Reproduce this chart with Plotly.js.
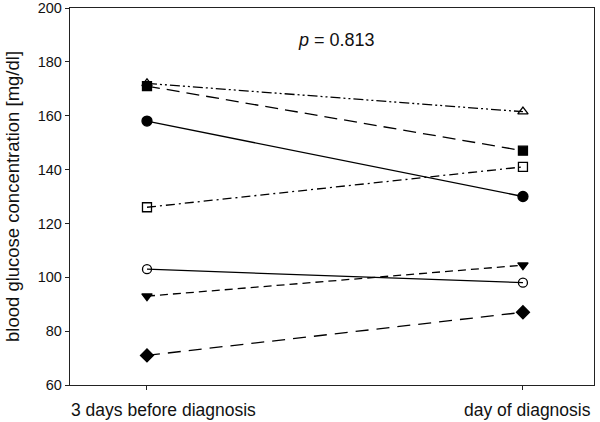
<!DOCTYPE html>
<html>
<head>
<meta charset="utf-8">
<script src="https://cdn.plot.ly/plotly-3.0.1.min.js"></script>
<style>html,body{margin:0;padding:0;background:#fff;}#chart{width:600px;height:422px;}</style>
</head>
<body>
<div id="chart"></div>
<script>
var categories = ["3 days before diagnosis", "day of diagnosis"];
var xPos = [0, 1];
var seriesNames = ["open triangle", "filled square", "filled circle", "open square", "open circle", "filled triangle down", "filled diamond"];
var triangleUp = [172, 161.5];
var squareFilled = [171, 147];
var circleFilled = [158, 130];
var squareOpen = [126, 141];
var circleOpen = [103, 98];
var triangleDown = [93, 104.5];
var diamondFilled = [71, 87];
var pText = "<i>p</i> = 0.813";

var seriesValues = [triangleUp, squareFilled, circleFilled, squareOpen, circleOpen, triangleDown, diamondFilled];
var symbols = ["triangle-up-open", "square", "circle", "square-open", "circle-open", "triangle-down", "diamond"];
var dashes = ["10px,3px,2px,3px,2px,3px", "13px,7px", "solid", "9px,4px,2px,4px", "solid", "8px,5px", "13px,8px"];
var sizes = [9, 9, 10, 9, 9, 9, 10];

var traces = seriesValues.map(function (vals, i) {
  return {
    x: xPos, y: vals, name: seriesNames[i], type: "scatter", mode: "lines+markers",
    line: {color: "#000", width: 1.3, dash: dashes[i]},
    marker: {symbol: symbols[i], size: sizes[i], color: "#000", line: {color: "#000", width: 1.3}},
    cliponaxis: false
  };
});

var labelX = [xPos[0] + 0.043, xPos[1] + 0.011];
var annotations = categories.map(function (c, i) {
  return {xref: "x", yref: "paper", x: labelX[i], y: -0.066, text: c, showarrow: false,
          xanchor: "center", yanchor: "middle", font: {size: 17.5, color: "#111"}};
});
annotations.push({
  xref: "paper", yref: "y", x: 0.508, y: 188, text: pText, showarrow: false,
  font: {size: 18, color: "#111"}, xanchor: "center", yanchor: "middle"
});

var layout = {
  width: 600, height: 422,
  margin: {l: 70, r: 6, t: 8, b: 37},
  paper_bgcolor: "#fff", plot_bgcolor: "#fff",
  showlegend: false,
  font: {family: "Liberation Sans, Arial, sans-serif", size: 14, color: "#111"},
  xaxis: {
    range: [-0.2048, 1.189], tickvals: xPos, ticktext: ["", ""],
    showgrid: false, zeroline: false, showline: true, linecolor: "#222", linewidth: 1.2,
    mirror: true, ticks: "outside", ticklen: 4, tickcolor: "#222"
  },
  yaxis: {
    range: [60, 200], tickvals: [60, 80, 100, 120, 140, 160, 180, 200],
    showgrid: false, zeroline: false, showline: true, linecolor: "#222", linewidth: 1.2,
    mirror: true, ticks: "outside", ticklen: 4, tickcolor: "#222",
    tickfont: {size: 14.5, color: "#111"},
    title: {text: "blood glucose concentration [mg/dl]", font: {size: 18.5, color: "#111"}, standoff: 13}
  },
  annotations: annotations
};

Plotly.newPlot("chart", traces, layout, {displayModeBar: false, staticPlot: true});
</script>
</body>
</html>
